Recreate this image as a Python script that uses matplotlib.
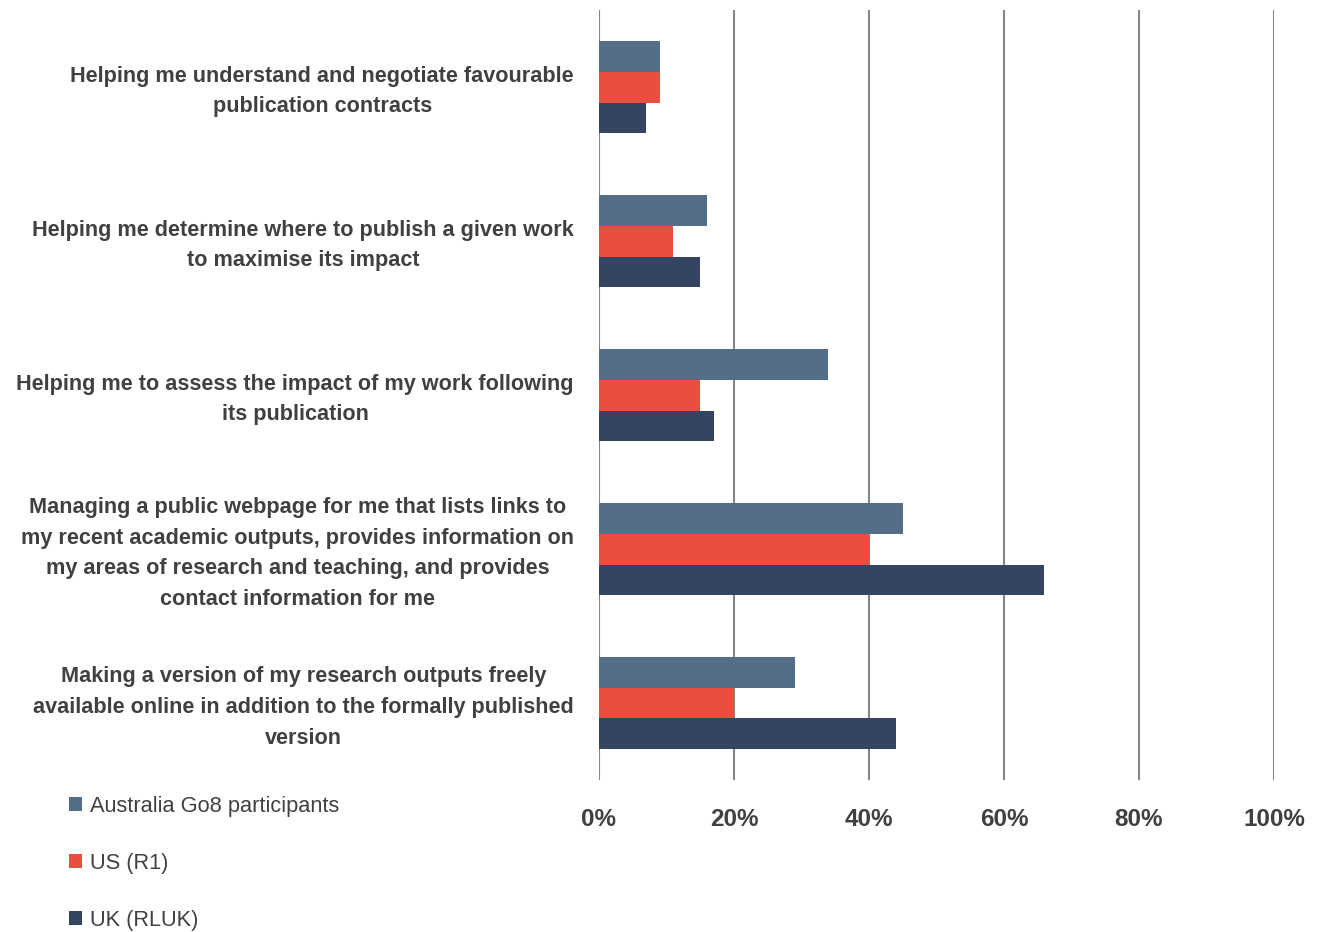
import matplotlib
matplotlib.use("Agg")
import matplotlib.pyplot as plt
import matplotlib.transforms as mtransforms
from matplotlib.patches import Patch
import numpy as np

plt.rcParams['font.family'] = ['Liberation Sans Narrow', 'Liberation Sans', 'DejaVu Sans']

categories = [
    "Helping me understand and negotiate favourable\npublication contracts",
    "Helping me determine where to publish a given work\nto maximise its impact",
    "Helping me to assess the impact of my work following\nits publication",
    "Managing a public webpage for me that lists links to\nmy recent academic outputs, provides information on\nmy areas of research and teaching, and provides\ncontact information for me",
    "Making a version of my research outputs freely\navailable online in addition to the formally published\nversion",
]
series_names = ["Australia Go8 participants", "US (R1)", "UK (RLUK)"]
australia = [9, 16, 34, 45, 29]
us = [9, 11, 15, 40, 20]
uk = [7, 15, 17, 66, 44]
colors = ["#546e8a", "#e84f3e", "#364464"]
xticks = [0, 20, 40, 60, 80, 100]

text_color = "#404040"

fig = plt.figure(figsize=(13.21, 9.32), dpi=100)
ax = fig.add_axes([0.4534, 0.163, 0.5110, 0.826])

y = np.arange(len(categories))
bar_h = 0.2
for offset, vals, color in zip([-bar_h, 0, bar_h], [australia, us, uk], colors):
    ax.barh(y + offset, vals, height=bar_h, color=color, zorder=2)

ax.set_xlim(0, 100)
ax.set_ylim(len(categories) - 0.5, -0.5)
ax.set_xticks(xticks)
ax.set_xticklabels([f"{t}%" for t in xticks], fontsize=17.5, fontweight='bold', color=text_color)
ax.set_yticks(y)
ax.set_yticklabels(categories, fontsize=15.6, fontweight='bold', color=text_color,
                   multialignment='center', linespacing=1.6)
ax.tick_params(axis='y', length=0, pad=18)
ax.tick_params(axis='x', length=0, pad=20)

# nudge category labels up a little so they sit centred on each bar group
shift = mtransforms.ScaledTranslation(0, 3 / 100, fig.dpi_scale_trans)
for lbl in ax.get_yticklabels():
    lbl.set_transform(lbl.get_transform() + shift)

for x in xticks:
    ax.axvline(x, color="#858585", lw=1.5, zorder=1)
for s in ax.spines.values():
    s.set_visible(False)

handles = [Patch(facecolor=c, label=n) for c, n in zip(colors, series_names)]
fig.legend(handles=handles, loc='upper left', bbox_to_anchor=(0.0375, 0.167),
           frameon=False, fontsize=15.7, labelcolor=text_color,
           handlelength=0.6, handleheight=0.6, handletextpad=0.35,
           labelspacing=1.64)

fig.savefig("out.png", dpi=100)
